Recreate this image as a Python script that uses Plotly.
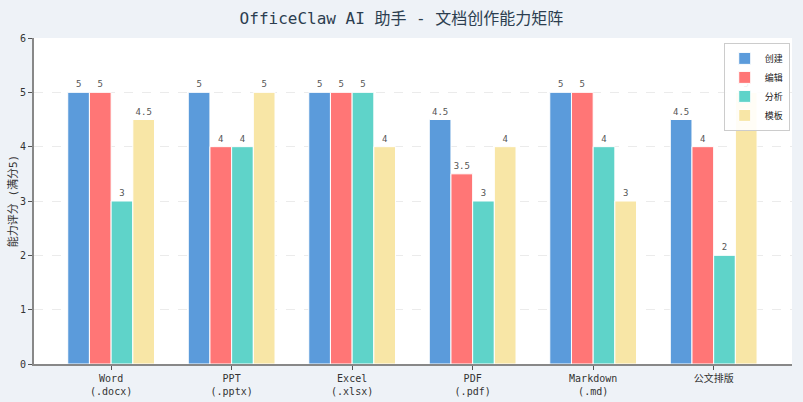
import plotly.graph_objects as go

categories = ["Word<br>(.docx)", "PPT<br>(.pptx)", "Excel<br>(.xlsx)", "PDF<br>(.pdf)", "Markdown<br>(.md)", "公文排版"]
series_names = ["创建", "编辑", "分析", "模板"]
create_vals = [5, 5, 5, 4.5, 5, 4.5]
edit_vals = [5, 4, 5, 3.5, 5, 4]
analyze_vals = [3, 4, 5, 3, 4, 2]
template_vals = [4.5, 5, 4, 4, 3, 5]
colors = ["#5B9BDB", "#FF7676", "#5FD3C9", "#F8E6A6"]

FONT = "DejaVu Sans Mono, Noto Sans CJK SC, sans-serif"

def fmt(v):
    return str(int(v)) if float(v).is_integer() else str(v)

fig = go.Figure()
for name, vals, col in zip(series_names, [create_vals, edit_vals, analyze_vals, template_vals], colors):
    fig.add_trace(go.Bar(
        x=list(range(len(categories))), y=vals, name=name,
        marker=dict(color=col, line=dict(color="white", width=1)),
        text=[fmt(v) for v in vals], textposition="outside",
        textfont=dict(size=9, color="#555555", family=FONT),
        cliponaxis=False,
    ))

fig.update_layout(
    width=803, height=402,
    margin=dict(l=34, r=11, t=38, b=38),
    paper_bgcolor="#EEF2F7", plot_bgcolor="white",
    barmode="group", bargap=0.28, bargroupgap=0,
    title=dict(text="OfficeClaw AI 助手 - 文档创作能力矩阵", x=0.5, xanchor="center", y=0.955, yanchor="middle",
               font=dict(size=16, color="#2C3E50", family=FONT)),
    font=dict(family=FONT, color="#333333"),
    legend=dict(x=0.997, y=0.985, xanchor="right", yanchor="top", bgcolor="rgba(255,255,255,0.9)",
                bordercolor="#CCCCCC", borderwidth=1, font=dict(size=9, color="#222"),
                tracegroupgap=0, itemwidth=30),
    showlegend=True,
    uniformtext=dict(minsize=8, mode="show"),
)
fig.update_xaxes(
    tickmode="array", tickvals=list(range(len(categories))), ticktext=categories,
    range=[-0.64, 5.65], showgrid=False, showline=True, linecolor="#888888", linewidth=2,
    ticks="outside", ticklen=4, tickcolor="#555555", tickfont=dict(size=10, color="#333333"),
    zeroline=False, automargin=False,
)
fig.update_yaxes(
    range=[0, 6], dtick=1, showgrid=True, gridcolor="#EBEBEB", griddash="dash", gridwidth=1,
    showline=True, linecolor="#888888", linewidth=2, ticks="outside", ticklen=4, tickcolor="#555555",
    tickfont=dict(size=10, color="#333333"), zeroline=False, automargin=False,
    title=dict(text="能力评分 (满分5)", font=dict(size=11, color="#333333"), standoff=0),
)
fig.write_html("out.html")
